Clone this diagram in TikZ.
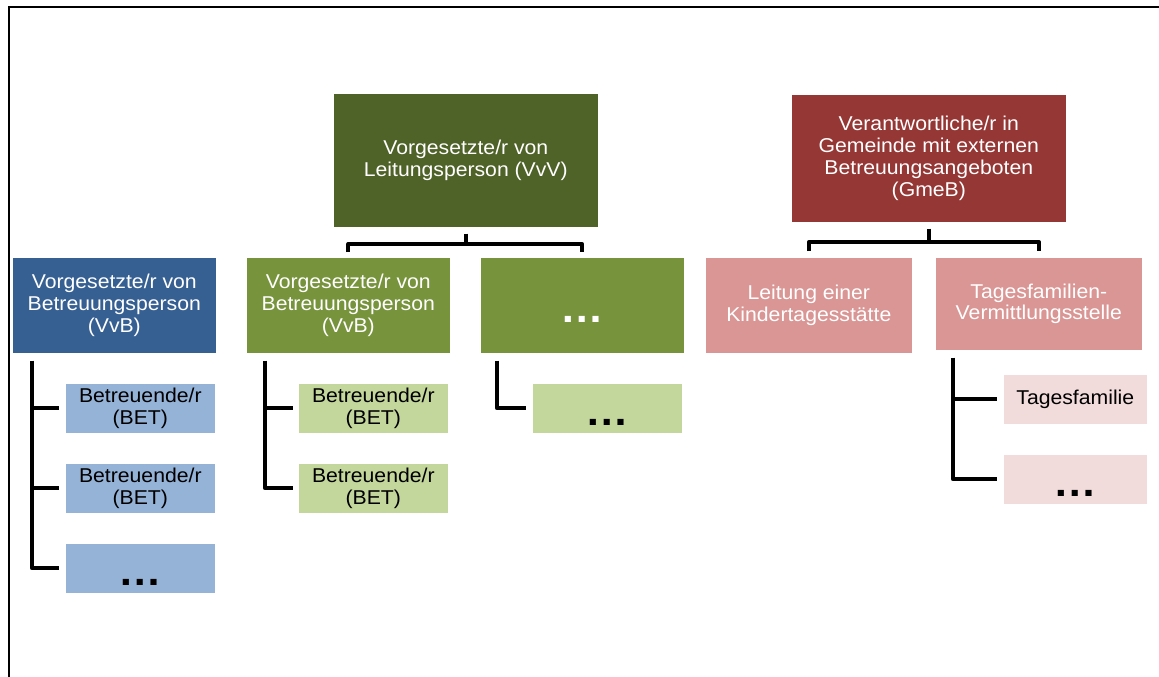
\documentclass[tikz,border=0pt]{standalone}
\usepackage{fontspec}
\setmainfont{Liberation Sans}[FakeStretch=1.06]
\usetikzlibrary{calc}
\definecolor{cVvV}{HTML}{4F6228}
\definecolor{cGmeB}{HTML}{953735}
\definecolor{cBlue}{HTML}{376092}
\definecolor{cGreen}{HTML}{77933C}
\definecolor{cPink}{HTML}{D99694}
\definecolor{cLBlue}{HTML}{95B3D7}
\definecolor{cLGreen}{HTML}{C3D69B}
\definecolor{cLPink}{HTML}{F2DCDB}
\begin{document}
\begin{tikzpicture}[x=1pt,y=-1pt,
  box/.style={anchor=north west, inner sep=0pt, align=center,
    font=\fontsize{20}{21.8}\selectfont, draw=white, line width=0.6pt},
  dotsbox/.style={anchor=north west, inner sep=0pt, draw=white, line width=0.6pt,
    font=\fontsize{41}{41}\selectfont\bfseries, text height=34pt, text depth=0pt},
  topbox/.style={minimum width=#1, minimum height=96pt},
  child/.style={minimum width=150pt, minimum height=50pt},
  conn/.style={line width=4pt, line join=round, line cap=butt},
  frame/.style={line width=2pt}]
\useasboundingbox (0,0) rectangle (1159,677);
\draw[frame] (9,677) -- (9,7.5) -- (1159,7.5);

% top level
\node[box, fill=cVvV, text=white, minimum width=265pt, minimum height=134pt] (vvv) at (333,93)
  {Vorgesetzte/r von\\Leitungsperson (VvV)};
\node[box, fill=cGmeB, text=white, minimum width=275pt, minimum height=128pt] (gmeb) at (791,94)
  {Verantwortliche/r in\\Gemeinde mit externen\\Betreuungsangeboten\\(GmeB)};

% second level
\node[box, fill=cBlue, text=white, topbox=204pt] (vvbb) at (12,257)
  {Vorgesetzte/r von\\Betreuungsperson\\(VvB)};
\node[box, fill=cGreen, text=white, topbox=204pt] (vvbg) at (246,257)
  {Vorgesetzte/r von\\Betreuungsperson\\(VvB)};
\node[dotsbox, fill=cGreen, text=white, topbox=204pt] (gdots) at (480,257) {…};
\node[box, fill=cPink, text=white, topbox=207pt] (leit) at (705,257)
  {Leitung einer\\Kindertagesstätte};
\node[box, fill=cPink, text=white, minimum width=207pt, minimum height=93pt] (tfv) at (935,257)
  {Tagesfamilien-\\Vermittlungsstelle};

% children
\node[box, fill=cLBlue, child] (bb1) at (65,383) {Betreuende/r\\(BET)};
\node[box, fill=cLBlue, child] (bb2) at (65,463) {Betreuende/r\\(BET)};
\node[dotsbox, fill=cLBlue, child] (bb3) at (65,543) {…};
\node[box, fill=cLGreen, child] (gb1) at (298,383) {Betreuende/r\\(BET)};
\node[box, fill=cLGreen, child] (gb2) at (298,463) {Betreuende/r\\(BET)};
\node[dotsbox, fill=cLGreen, child] (gd1) at (532,383) {…};
\node[box, fill=cLPink, minimum width=144pt, minimum height=50pt] (tf1) at (1003,374) {Tagesfamilie};
\node[dotsbox, fill=cLPink, minimum width=144pt, minimum height=50pt] (tf2) at (1003,454) {…};

% brackets
\coordinate (j1) at ($(vvv.south)+(0,16.5)$);
\draw[conn] ($(vvbg.north)+(0,-5)$) |- (j1) -| ($(gdots.north)+(0,-5)$);
\draw[conn] ($(vvv.south)+(0,6)$) -- (j1);
\coordinate (j2) at ($(gmeb.south)+(0,19.5)$);
\draw[conn] ($(leit.north)+(0,-6)$) |- (j2) -| ($(tfv.north)+(0,-6)$);
\draw[conn] ($(gmeb.south)+(0,6)$) -- (j2);

% trees
\coordinate (t1) at ($(vvbb.south west)+(20,7)$);
\draw[conn] (t1) |- ($(bb3.west)+(-6,0)$);
\draw[conn] (t1 |- bb1.west) -- ($(bb1.west)+(-6,0)$);
\draw[conn] (t1 |- bb2.west) -- ($(bb2.west)+(-6,0)$);
\coordinate (t2) at ($(vvbg.south west)+(19,7)$);
\draw[conn] (t2) |- ($(gb2.west)+(-5,0)$);
\draw[conn] (t2 |- gb1.west) -- ($(gb1.west)+(-5,0)$);
\coordinate (t3) at ($(gdots.south west)+(17,7)$);
\draw[conn] (t3) |- ($(gd1.west)+(-6,0)$);
\coordinate (t4) at ($(tfv.south west)+(18,7)$);
\draw[conn] (t4) |- ($(tf2.west)+(-6,0)$);
\draw[conn] (t4 |- tf1.west) -- ($(tf1.west)+(-6,0)$);
\end{tikzpicture}
\end{document}
